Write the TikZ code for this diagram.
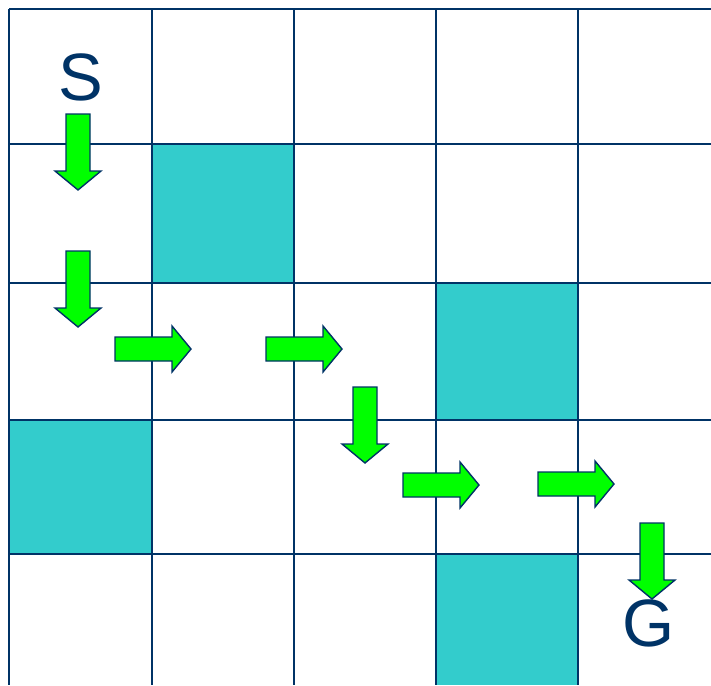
\documentclass[tikz,border=0pt]{standalone}
\usepackage{fontspec}
\setmainfont{Liberation Sans}
\definecolor{navy}{RGB}{0,51,102}
\definecolor{tealc}{RGB}{51,204,204}
\definecolor{arrgreen}{RGB}{0,255,0}
\begin{document}
\begin{tikzpicture}[x=1pt,y=-1pt,
  gridline/.style={draw=navy,line width=2.8pt},
  wall/.style={fill=tealc},
  arr/.style={fill=arrgreen,draw=navy,line width=1.4pt,line join=miter},
  lbl/.style={text=navy,font=\fontsize{67}{67}\selectfont,inner sep=0pt,anchor=base},
  rarr/.pic={\path[arr] (0,-12) -- (57,-12) -- (57,-23) -- (76,0) -- (57,23) -- (57,12) -- (0,12) -- cycle;},
  darr/.pic={\path[arr] (-12,0) -- (-12,57) -- (-23,57) -- (0,76) -- (23,57) -- (12,57) -- (12,0) -- cycle;}
]
\useasboundingbox (0,0) rectangle (711,685);
\fill[white] (0,0) rectangle (711,685);
% walls
\path[wall] (152,144) rectangle (294,283);
\path[wall] (436,283) rectangle (578,420);
\path[wall] (9,420) rectangle (152,554);
\path[wall] (436,554) rectangle (578,685);
% grid
\foreach \x in {9,152,294,436,578} \draw[gridline] (\x,9) -- (\x,685);
\foreach \y in {9,144,283,420,554} \draw[gridline] (9,\y) -- (711,\y);
% arrows
\pic at (78,114) {darr};
\pic at (78,251) {darr};
\pic at (115,349) {rarr};
\pic at (266,349) {rarr};
\pic at (365,387) {darr};
\pic at (403,485) {rarr};
\pic at (538,484) {rarr};
\pic at (652,523) {darr};
% labels
\node[lbl] (S) at (81,100) {S};
\node[lbl] (G) at (649,646) {G};
\end{tikzpicture}
\end{document}
